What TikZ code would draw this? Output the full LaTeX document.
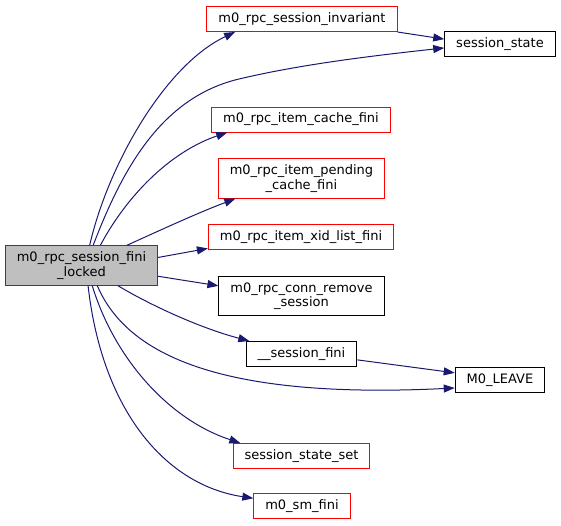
\documentclass[tikz,border=0pt]{standalone}
\usepackage{fontspec}
\setmainfont{DejaVu Sans}
\usetikzlibrary{arrows.meta}
\definecolor{edgecol}{HTML}{191970}
\definecolor{rootfill}{HTML}{BFBFBF}
\definecolor{rootline}{HTML}{404040}

\begin{document}
\begin{tikzpicture}[x=1pt,y=-1pt,font=\fontsize{13}{14.5}\selectfont,
    fn/.style={draw=red,line width=1pt,inner xsep=11.5pt,inner ysep=6pt,minimum height=25pt,align=center},
    fnblack/.style={fn,draw=black},
    root/.style={fn,draw=rootline,fill=rootfill},
    edge/.style={draw=edgecol,line width=1pt,-{Triangle[length=11pt,width=8pt]}}]
    \useasboundingbox (0,0) rectangle (561,525);
    % caller
    \node[root] (main) at (81.5,265.5) {m0\_rpc\_session\_fini\\\_locked};
    % callees
    \node[fn] (inv) at (302,19) {m0\_rpc\_session\_invariant};
    \node[fnblack] (state) at (500,44) {session\_state};
    \node[fn] (cache) at (301,119.5) {m0\_rpc\_item\_cache\_fini};
    \node[fn] (pending) at (301.5,178.5) {m0\_rpc\_item\_pending\\\_cache\_fini};
    \node[fn] (xid) at (301,237) {m0\_rpc\_item\_xid\_list\_fini};
    \node[fnblack] (conn) at (301.5,296) {m0\_rpc\_conn\_remove\\\_session};
    \node[fnblack] (sfini) at (301.5,354) {\_\_session\_fini};
    \node[fnblack] (leave) at (500,380) {M0\_LEAVE};
    \node[fn] (stset) at (301.5,456) {session\_state\_set};
    \node[fn] (smfini) at (302,506) {m0\_sm\_fini};
    % calls
    \draw[edge] (main.68.7) .. controls (108,165) and (165,65) .. (inv.-169);
    \draw[edge] (main.60) .. controls (122,170) and (160,100) .. (235,80)
        .. controls (300,64) and (380,55) .. (state.184);
    \draw[edge] (main.47) .. controls (130,190) and (175,150) .. (cache.-170.3);
    \draw[edge] (main.24.3) .. controls (165,228) and (200,212) .. (pending.-163.2);
    \draw[edge] (main.6.3) -- (xid.-173.9);
    \draw[edge] (main.-8.5) -- (conn.173.1);
    \draw[edge] (main.-29.3) .. controls (150,305) and (200,328) .. (sfini.166.6);
    \draw[edge] (main.-52.9) .. controls (125,350) and (210,400) .. (leave.-170);
    \draw[edge] (main.-62.9) .. controls (115,360) and (170,420) .. (stset.168.1);
    \draw[edge] (main.-72) .. controls (102,410) and (165,485) .. (smfini.171.9);
    \draw[edge] (inv.south east) -- (state.175.8);
    \draw[edge] (sfini.-6.2) -- (leave.171);
\end{tikzpicture}
\end{document}
